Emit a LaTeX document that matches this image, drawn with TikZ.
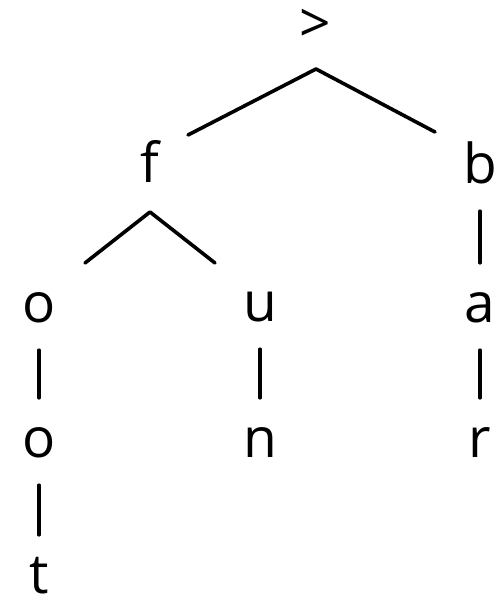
\documentclass[tikz,border=0pt]{standalone}
\usepackage{fontspec}
\setmainfont{Open Sans}
\begin{document}
\begin{tikzpicture}[x=1pt,y=-1pt,
  letter/.style={font=\fontsize{55}{60}\selectfont, inner sep=0pt,
                 text height=30pt, text depth=0pt, anchor=base},
  branch/.style={line width=3.6pt, line cap=round, line join=round},
  stem/.style={branch, shorten <=28pt, shorten >=29pt}]
\useasboundingbox (0,0) rectangle (502,603);

% letters of the trie
\node[letter] (root) at (315,42) {>};
\node[letter] (f)  at (150,182) {f};
\node[letter] (b)  at (480,183) {b};
\node[letter] (o1) at (39,322)  {o};
\node[letter] (u)  at (260,321) {u};
\node[letter] (a)  at (480,322) {a};
\node[letter] (o2) at (39,457)  {o};
\node[letter] (n)  at (260,457) {n};
\node[letter] (r)  at (480,457) {r};
\node[letter] (t)  at (39,593)  {t};

% forks below the branching letters
\coordinate (rootfork) at (316,69);
\coordinate (rootL) at (188,135);
\coordinate (rootR) at (435,132);
\draw[branch] (rootL) -- (rootfork) -- (rootR);

\coordinate (ffork) at (150,212);
\coordinate (fL) at (85,263);
\coordinate (fR) at (215,263);
\draw[branch] (fL) -- (ffork) -- (fR);

% single-child stems
\draw[stem] (o1.south) -- (o2.north);
\draw[stem] (o2.south) -- ([yshift=-1pt]t.north);
\draw[stem] (u.south) -- (n.north);
\draw[stem] (b.south) -- (a.north);
\draw[stem] (a.south) -- (r.north);
\end{tikzpicture}
\end{document}
